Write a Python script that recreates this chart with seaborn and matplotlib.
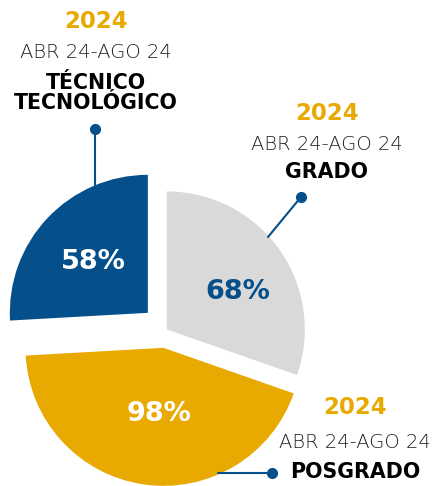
import matplotlib
matplotlib.use("Agg")
import matplotlib.pyplot as plt
import seaborn as sns

# ---------------- DATA ----------------
categories = ["TÉCNICO\nTECNOLÓGICO", "POSGRADO", "GRADO"]
values = [58, 98, 68]
pct_labels = ["58%", "98%", "68%"]
year_label = "2024"
period_label = "ABR 24-AGO 24"

# ---------------- STYLE ----------------
sns.set_theme(style="white")
plt.rcParams["font.family"] = ["DejaVu Sans"]

BLUE = "#054f8a"
GRAY = "#d9d9d9"
GOLD = "#e8a900"
slice_colors = [BLUE, GOLD, GRAY]
pct_colors = ["white", "white", BLUE]

W, H = 433, 486
fig = plt.figure(figsize=(W / 100, H / 100), dpi=100)
ax = fig.add_axes([0, 0, 1, 1])

# pie drawn in pixel-like units (y up)
cx, cy, r = 166, H - 330, 138
wedges, _ = ax.pie(
    values,
    colors=slice_colors,
    startangle=90,
    counterclock=True,
    radius=r,
    center=(cx, cy),
    explode=[25, 18, 1],
    wedgeprops=dict(linewidth=0),
)

ax.set_xlim(0, W)
ax.set_ylim(0, H)
ax.set_aspect("equal")
ax.axis("off")

# percentage labels
pct_pos = [(93, 262), (159, 414), (238, 292)]
for txt, col, (x, y) in zip(pct_labels, pct_colors, pct_pos):
    ax.text(x, H - y, txt, color=col, fontsize=19.5, fontweight="bold",
            ha="center", va="center")

# ---------------- CALLOUTS ----------------
def callout(x, y_year, y_period, y_name, name):
    ax.text(x, H - y_year, year_label, color=GOLD, fontsize=16.5,
            fontweight="bold", ha="center", va="center")
    ax.text(x, H - y_period, period_label, color="#222222", fontsize=14,
            fontweight="light", ha="center", va="center")
    ax.text(x, H - y_name, name, color="black", fontsize=14.8,
            fontweight="bold", ha="center", va="center", linespacing=0.95)

callout(96, 21, 53, 93, categories[0])
callout(327, 113, 144, 172, categories[2])
callout(355, 408, 442, 472, categories[1])

# leader lines with dots
leaders = [((95, 129), (95, 185)), ((301, 197), (268, 237)), ((272, 473), (218, 473))]
for (x0, y0), (x1, y1) in leaders:
    ax.plot([x0, x1], [H - y0, H - y1], color=BLUE, lw=1.5)
    ax.plot(x0, H - y0, "o", color=BLUE, ms=7)

fig.savefig("out.png", dpi=100)
